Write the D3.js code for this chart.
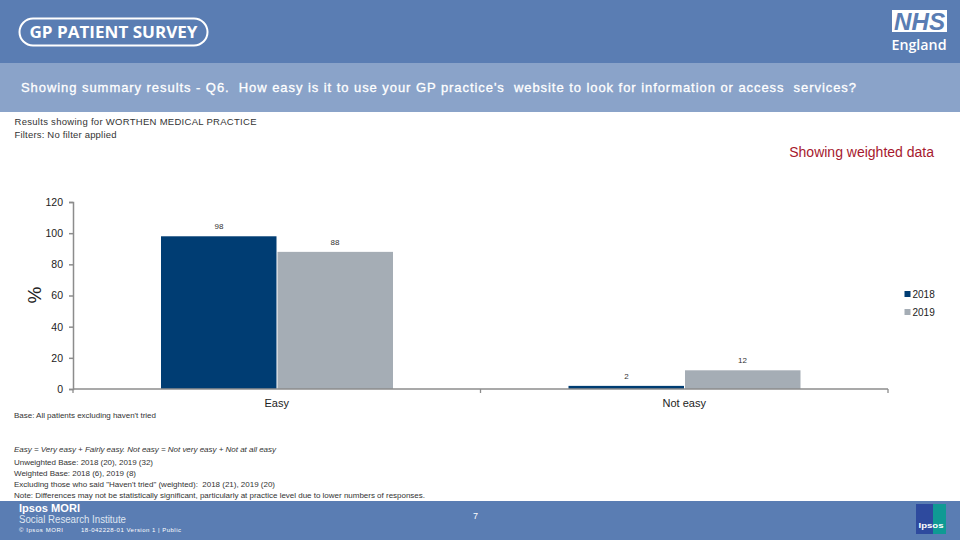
<!DOCTYPE html>
<html><head><meta charset="utf-8">
<script src="https://cdnjs.cloudflare.com/ajax/libs/d3/7.8.5/d3.min.js"></script>
<style>html,body{margin:0;padding:0;background:#fff}svg{display:block}text{white-space:pre}</style>
</head><body><svg id="c" width="960" height="540" font-family="Liberation Sans"></svg>
<script>
const categories = ["Easy", "Not easy"];
const years = ["2018", "2019"];
const values2018 = [98, 2];
const values2019 = [88, 12];
const yTicks = [0, 20, 40, 60, 80, 100, 120];
const seriesColors = ["#003d73", "#a5adb5"];
const title = "Showing summary results - Q6.  How easy is it to use your GP practice's  website to look for information or access  services?";
const footnotes = [
  ["Easy = Very easy + Fairly easy. Not easy = Not very easy + Not at all easy", 452, true, 262],
  ["Unweighted Base: 2018 (20), 2019 (32)", 465, false, 139],
  ["Weighted Base: 2018 (6), 2019 (8)", 476, false, 122],
  ["Excluding those who said \"Haven't tried\" (weighted):  2018 (21), 2019 (20)", 487, false, 261],
  ["Note: Differences may not be statistically significant, particularly at practice level due to lower numbers of responses.", 498, false, 411]
];
const svg = d3.select("#c");
const rect = (x,y,w,h,f) => svg.append("rect").attr("x",x).attr("y",y).attr("width",w).attr("height",h).attr("fill",f);
const text = (s,x,y,size,fill,anchor="start") => svg.append("text").attr("x",x).attr("y",y).attr("font-size",size).attr("fill",fill).attr("text-anchor",anchor).text(s);

rect(0,0,960,63,"#5a7db3");
rect(0,63,960,49,"#8aa3c9");
rect(0,501,960,39,"#5a7db3");

// header logos
svg.append("rect").attr("x",19.5).attr("y",18.5).attr("width",188).attr("height",27).attr("rx",13.5).attr("fill","none").attr("stroke","#fff").attr("stroke-width",2);
text("GP PATIENT SURVEY",29.5,37.5,15.5,"#fff").attr("font-family","Open Sans").attr("font-weight",700).attr("textLength",168).attr("lengthAdjust","spacingAndGlyphs");
rect(892,10,55,22,"#fff");
text("NHS",919.5,29.5,24,"#5a7db3","middle").attr("font-weight",700).attr("font-style","italic").attr("textLength",51).attr("lengthAdjust","spacingAndGlyphs");
text("England",891.5,49.5,14.5,"#fff").attr("font-family","Open Sans").attr("font-weight",600).attr("textLength",55).attr("lengthAdjust","spacingAndGlyphs");

text(title,21,92,13,"#fff").attr("stroke","#fff").attr("stroke-width",0.3).attr("textLength",835);
text("Results showing for WORTHEN MEDICAL PRACTICE",14.5,125,9.5,"#333").attr("textLength",242);
text("Filters: No filter applied",14.5,138,9.5,"#333").attr("textLength",102);
text("Showing weighted data",934,157,14,"#a6192e","end");

// chart
const y = d3.scaleLinear().domain([0,120]).range([389,202]);
const x0 = d3.scaleBand().domain(categories).range([73,888]);
const x1 = d3.scaleBand().domain(years).range([88,320]);
const vals = {"2018":values2018,"2019":values2019};
const axisColor = "#8c8c8c";

years.forEach((yr,si) => {
  svg.append("g").selectAll("rect").data(categories).join("rect")
    .attr("x",c=>x0(c)+x1(yr)+(si?0.5:0))
    .attr("y",(c,i)=>y(vals[yr][i]))
    .attr("width",x1.bandwidth()-0.5)
    .attr("height",(c,i)=>y(0)-y(vals[yr][i]))
    .attr("fill",seriesColors[si]);
  svg.append("g").selectAll("text").data(categories).join("text")
    .attr("x",c=>x0(c)+x1(yr)+x1.bandwidth()/2)
    .attr("y",(c,i)=>y(vals[yr][i])-7)
    .attr("text-anchor","middle").attr("font-size",8).attr("fill","#333")
    .text((c,i)=>vals[yr][i]);
});

const yAxis = svg.append("g").attr("transform","translate(73,0)")
  .call(d3.axisLeft(y).tickValues(yTicks).tickSize(4).tickPadding(6));
yAxis.selectAll(".domain,line").attr("stroke",axisColor).attr("stroke-width",1.5);
yAxis.selectAll("text").attr("font-size",10.5).attr("fill","#222").attr("font-family","Liberation Sans");

const xAxis = svg.append("g").attr("transform","translate(0,389)");
xAxis.append("line").attr("x1",73).attr("x2",888).attr("stroke",axisColor).attr("stroke-width",1.6);
xAxis.selectAll("line.t").data([...categories.map(c=>x0(c)),888]).join("line").attr("class","t")
  .attr("x1",d=>d).attr("x2",d=>d).attr("y1",0).attr("y2",4).attr("stroke",axisColor).attr("stroke-width",1.3);
xAxis.selectAll("text").data(categories).join("text")
  .attr("x",c=>x0(c)+x0.bandwidth()/2).attr("y",18).attr("text-anchor","middle")
  .attr("font-size",11).attr("fill","#222").text(d=>d);

svg.append("text").attr("transform","translate(41,295) rotate(-90)").attr("text-anchor","middle")
  .attr("font-size",19).attr("fill","#222").text("%");

// legend
years.forEach((yr,i)=>{
  const ly = 294+i*18;
  rect(904.5,ly-3,6,6,seriesColors[i]);
  text(yr,912.5,ly+4,10,"#222");
});

// notes
text("Base: All patients excluding haven't tried",14,418,8,"#333").attr("textLength",142);
footnotes.forEach(([s,yy,it,len])=>{
  const t = text(s,14,yy,8,"#333").attr("textLength",len);
  if(it) t.attr("font-style","italic");
});

// footer
text("Ipsos MORI",19,512,10,"#fff").attr("font-weight",700).attr("textLength",61).attr("lengthAdjust","spacingAndGlyphs");
text("Social Research Institute",19,523,10,"#dfe6f1").attr("textLength",107).attr("lengthAdjust","spacingAndGlyphs");
text("© Ipsos MORI",19,532,6,"#fff").attr("textLength",44);
text("18-042228-01 Version 1 | Public",81,532,6,"#fff").attr("textLength",100);
text("7",475.5,519,9,"#fff","middle");
rect(916,504,17,30,"#2e4a9e");
rect(933,504,13,30,"#0f9a94");
text("Ipsos",931,528,8,"#fff","middle").attr("font-weight",700).attr("textLength",25).attr("lengthAdjust","spacingAndGlyphs");
</script></body></html>
